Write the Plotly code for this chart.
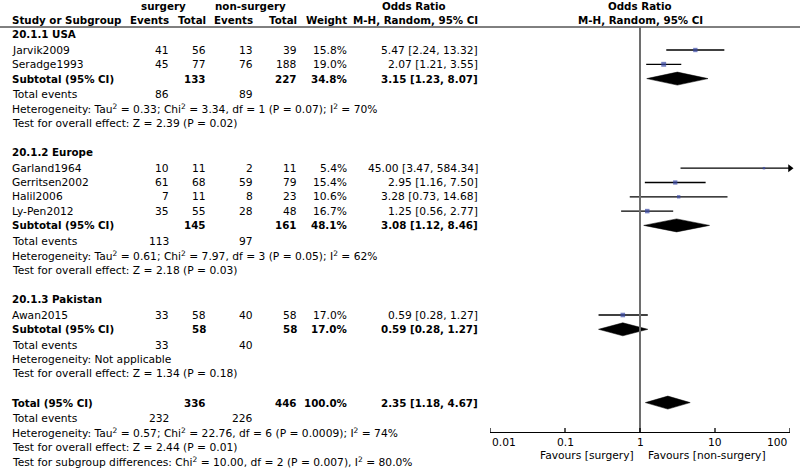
import math
import plotly.graph_objects as go

# ---------------- data ----------------
group_names = ["20.1.1 USA", "20.1.2 Europe", "20.1.3 Pakistan"]
group_of_study = [0, 0, 1, 1, 1, 1, 2]
studies = ["Jarvik2009", "Seradge1993", "Garland1964", "Gerritsen2002",
           "Halil2006", "Ly-Pen2012", "Awan2015"]
ev_s = [41, 45, 10, 61, 7, 35, 33]
tot_s = [56, 77, 11, 68, 11, 55, 58]
ev_n = [13, 76, 2, 59, 8, 28, 40]
tot_n = [39, 188, 11, 79, 23, 48, 58]
weight = [15.8, 19.0, 5.4, 15.4, 10.6, 16.7, 17.0]
or_val = [5.47, 2.07, 45.00, 2.95, 3.28, 1.25, 0.59]
or_lo = [2.24, 1.21, 3.47, 1.16, 0.73, 0.56, 0.28]
or_hi = [13.32, 3.55, 584.34, 7.50, 14.68, 2.77, 1.27]

sub_tot_s = [133, 145, 58]
sub_tot_n = [227, 161, 58]
sub_weight = [34.8, 48.1, 17.0]
sub_or = [3.15, 3.08, 0.59]
sub_lo = [1.23, 1.12, 0.28]
sub_hi = [8.07, 8.46, 1.27]
sub_ev_s = [86, 113, 33]
sub_ev_n = [89, 97, 40]
sub_het = ["Heterogeneity: Tau<sup>2</sup> = 0.33; Chi<sup>2</sup> = 3.34, df = 1 (P = 0.07); I<sup>2</sup> = 70%",
           "Heterogeneity: Tau<sup>2</sup> = 0.61; Chi<sup>2</sup> = 7.97, df = 3 (P = 0.05); I<sup>2</sup> = 62%",
           "Heterogeneity: Not applicable"]
sub_test = ["Test for overall effect: Z = 2.39 (P = 0.02)",
            "Test for overall effect: Z = 2.18 (P = 0.03)",
            "Test for overall effect: Z = 1.34 (P = 0.18)"]

tot_tot_s = 336
tot_tot_n = 446
tot_weight = 100.0
tot_or, tot_lo, tot_hi = 2.35, 1.18, 4.67
tot_ev_s, tot_ev_n = 232, 226
tot_het = "Heterogeneity: Tau<sup>2</sup> = 0.57; Chi<sup>2</sup> = 22.76, df = 6 (P = 0.0009); I<sup>2</sup> = 74%"
tot_test = "Test for overall effect: Z = 2.44 (P = 0.01)"
subgroup_test = "Test for subgroup differences: Chi<sup>2</sup> = 10.00, df = 2 (P = 0.007), I<sup>2</sup> = 80.0%"

tick_vals = [0.01, 0.1, 1, 10, 100]
tick_text = ["0.01", "0.1", "1", "10", "100"]
fav_left = "Favours [surgery]"
fav_right = "Favours [non-surgery]"

# ---------------- layout geometry ----------------
W, H = 800, 470
AXIS_Y = 432
FONT = "DejaVu Sans"
FS = 10.7
FSB = 10.3
X_NAME, X_EVS, X_TOTS, X_EVN, X_TOTN, X_W, X_OR = 10, 171, 208, 255, 299, 349, 480
STEP = 14.3

annotations = []


def txt(x, y, s, anchor="left", bold=False):
    size = FSB if bold else FS
    if bold:
        s = "<b>" + s + "</b>"
    annotations.append(dict(x=x / W, y=1 - y / H, xref="paper", yref="paper",
                            text=s, showarrow=False, xanchor=anchor, yanchor="middle",
                            font=dict(family=FONT, size=size, color="black")))


def ci_txt(o, l, h):
    return f"{o:.2f} [{l:.2f}, {h:.2f}]"


# headers
txt(163, 6, "surgery", "center", True)
txt(250, 6, "non-surgery", "center", True)
txt(414, 6, "Odds Ratio", "center", True)
txt(640, 6, "Odds Ratio", "center", True)
txt(X_NAME, 20, "Study or Subgroup", "left", True)
txt(X_EVS, 20, "Events", "right", True)
txt(X_TOTS, 20, "Total", "right", True)
txt(X_EVN, 20, "Events", "right", True)
txt(X_TOTN, 20, "Total", "right", True)
txt(X_W, 20, "Weight", "right", True)
txt(X_OR, 20, "M-H, Random, 95% CI", "right", True)
txt(640, 20, "M-H, Random, 95% CI", "center", True)

study_y = []
sub_y = []
y = 34
for g, gname in enumerate(group_names):
    txt(X_NAME, y, gname, "left", True)
    y += 16
    for i, s in enumerate(studies):
        if group_of_study[i] != g:
            continue
        study_y.append(y)
        txt(X_NAME, y, s)
        txt(X_EVS, y, str(ev_s[i]), "right")
        txt(X_TOTS, y, str(tot_s[i]), "right")
        txt(X_EVN, y, str(ev_n[i]), "right")
        txt(X_TOTN, y, str(tot_n[i]), "right")
        txt(X_W, y, f"{weight[i]:.1f}%", "right")
        txt(X_OR, y, ci_txt(or_val[i], or_lo[i], or_hi[i]), "right")
        y += STEP
    sub_y.append(y)
    txt(X_NAME, y, "Subtotal (95% CI)", "left", True)
    txt(X_TOTS, y, str(sub_tot_s[g]), "right", True)
    txt(X_TOTN, y, str(sub_tot_n[g]), "right", True)
    txt(X_W, y, f"{sub_weight[g]:.1f}%", "right", True)
    txt(X_OR, y, ci_txt(sub_or[g], sub_lo[g], sub_hi[g]), "right", True)
    y += 16
    txt(X_NAME, y, "Total events")
    txt(X_EVS, y, str(sub_ev_s[g]), "right")
    txt(X_EVN, y, str(sub_ev_n[g]), "right")
    y += STEP
    txt(X_NAME, y, sub_het[g])
    y += STEP
    txt(X_NAME, y, sub_test[g])
    y += 29

total_y = y - 0.3
txt(X_NAME, total_y, "Total (95% CI)", "left", True)
txt(X_TOTS, total_y, str(tot_tot_s), "right", True)
txt(X_TOTN, total_y, str(tot_tot_n), "right", True)
txt(X_W, total_y, f"{tot_weight:.1f}%", "right", True)
txt(X_OR, total_y, ci_txt(tot_or, tot_lo, tot_hi), "right", True)
y = total_y + 16
txt(X_NAME, y, "Total events")
txt(X_EVS, y, str(tot_ev_s), "right")
txt(X_EVN, y, str(tot_ev_n), "right")
y += STEP
txt(X_NAME, y, tot_het)
y += STEP
txt(X_NAME, y, tot_test)
y += STEP
txt(X_NAME, y, subgroup_test)

# ---------------- forest panel ----------------
XMIN, XMAX = tick_vals[0], tick_vals[-1]
fig = go.Figure()

ci_x, ci_y = [], []
arrow_x, arrow_y = [], []
for i in range(len(studies)):
    hi_c = min(or_hi[i], XMAX)
    lo_c = max(or_lo[i], XMIN)
    ci_x += [lo_c, hi_c, None]
    ci_y += [study_y[i], study_y[i], None]
    if or_hi[i] > XMAX:
        arrow_x.append(XMAX)
        arrow_y.append(study_y[i])

fig.add_trace(go.Scatter(x=ci_x, y=ci_y, mode="lines", xaxis="x2", yaxis="y",
                         line=dict(color="black", width=1.3), hoverinfo="skip",
                         showlegend=False, cliponaxis=False))
fig.add_trace(go.Scatter(x=arrow_x, y=arrow_y, mode="markers", xaxis="x2", yaxis="y",
                         marker=dict(symbol="triangle-right", size=7, color="black"),
                         hoverinfo="skip", showlegend=False, cliponaxis=False))
fig.add_trace(go.Scatter(x=or_val, y=study_y, mode="markers", xaxis="x2", yaxis="y",
                         marker=dict(symbol="square", color="#3a4aa6",
                                     size=[1.5 + w * 0.18 for w in weight],
                                     line=dict(width=0)),
                         hoverinfo="skip", showlegend=False))

diamonds = list(zip(sub_or, sub_lo, sub_hi, sub_y)) + [(tot_or, tot_lo, tot_hi, total_y)]
for o, l, h, yy in diamonds:
    fig.add_trace(go.Scatter(x=[l, o, h, o, l], y=[yy, yy - 6.5, yy, yy + 6.5, yy],
                             mode="lines", fill="toself", fillcolor="black",
                             line=dict(color="black", width=0.5), xaxis="x2", yaxis="y",
                             hoverinfo="skip", showlegend=False))

shapes = [
    dict(type="line", xref="paper", yref="paper", x0=0, x1=1, y0=1 - 27 / H, y1=1 - 27 / H,
         line=dict(color="black", width=1)),
    dict(type="line", xref="x2", yref="y", x0=1, x1=1, y0=27, y1=AXIS_Y,
         line=dict(color="#6e6e6e", width=2)),
]
for tv in tick_vals:
    shapes.append(dict(type="line", xref="x2", yref="y", x0=tv, x1=tv,
                       y0=AXIS_Y - 4, y1=AXIS_Y + 4, line=dict(color="black", width=1.3)))

for k, (tv, tt) in enumerate(zip(tick_vals, tick_text)):
    anchor = "left" if k == 0 else ("right" if k == len(tick_vals) - 1 else "center")
    annotations.append(dict(x=math.log10(tv), y=1 - 442 / H, xref="x2", yref="paper", text=tt,
                            showarrow=False, xanchor=anchor, yanchor="middle",
                            font=dict(family=FONT, size=FS, color="black")))
txt(636, 455, fav_left, "right")
txt(646, 455, fav_right, "left")

fig.update_layout(
    width=W, height=H, margin=dict(l=0, r=0, t=0, b=0),
    paper_bgcolor="white", plot_bgcolor="white",
    xaxis=dict(visible=False, range=[0, 1], domain=[0, 1]),
    xaxis2=dict(type="log", range=[-2, 2], domain=[490 / W, 790 / W], anchor="y",
                showgrid=False, zeroline=False, showticklabels=False, ticks="",
                showline=True, linecolor="black", linewidth=1.3),
    yaxis=dict(range=[AXIS_Y, 0], domain=[(H - AXIS_Y) / H, 1], visible=False,
               showgrid=False, zeroline=False),
    shapes=shapes, annotations=annotations,
    font=dict(family=FONT, size=FS, color="black"),
    hovermode=False,
)

fig.write_html("out.html", config={"displayModeBar": False},
               post_script="document.body.style.margin='0px';document.body.style.overflow='hidden';")
